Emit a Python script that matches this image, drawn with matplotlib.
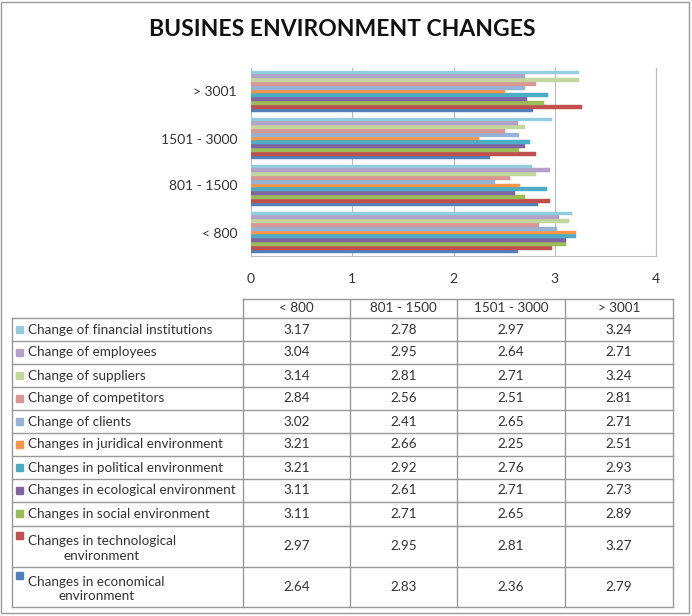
import matplotlib
matplotlib.use("Agg")
import matplotlib.pyplot as plt
from matplotlib.patches import Rectangle
import numpy as np

plt.rcParams['font.family'] = ['Lato', 'DejaVu Sans']

title = "BUSINES ENVIRONMENT CHANGES"
categories = ["< 800", "801 - 1500", "1501 - 3000", "> 3001"]

# table order (top row first)
series_names = [
    "Change of financial institutions",
    "Change of employees",
    "Change of suppliers",
    "Change of competitors",
    "Change of clients",
    "Changes in juridical environment",
    "Changes in political environment",
    "Changes in ecological environment",
    "Changes in social environment",
    "Changes in technological\nenvironment",
    "Changes in economical\nenvironment",
]
financial = [3.17, 2.78, 2.97, 3.24]
employees = [3.04, 2.95, 2.64, 2.71]
suppliers = [3.14, 2.81, 2.71, 3.24]
competitors = [2.84, 2.56, 2.51, 2.81]
clients = [3.02, 2.41, 2.65, 2.71]
juridical = [3.21, 2.66, 2.25, 2.51]
political = [3.21, 2.92, 2.76, 2.93]
ecological = [3.11, 2.61, 2.71, 2.73]
social = [3.11, 2.71, 2.65, 2.89]
technological = [2.97, 2.95, 2.81, 3.27]
economical = [2.64, 2.83, 2.36, 2.79]
series_values = [financial, employees, suppliers, competitors, clients, juridical,
                 political, ecological, social, technological, economical]
colors = ["#93CDDD", "#B3A2C7", "#C3D69B", "#D99694", "#95B3D7", "#F79646",
          "#4BACC6", "#8064A2", "#9BBB59", "#C0504D", "#4F81BD"]

W, H = 692, 616
fig = plt.figure(figsize=(W/100, H/100), dpi=100)

def fx(px): return px/W
def fy(py): return 1-py/H

# ---- bar chart
ax = fig.add_axes([fx(251), fy(256), (656-251)/W, (256-68)/H])
n = len(series_names)
group = 0.89
bh = group/n
y = np.arange(len(categories))
for k in range(n):
    i = n-1-k  # economical at the bottom of each group
    offs = -group/2 + bh*(k+0.5)
    ax.barh(y+offs, series_values[i], height=bh, color=colors[i],
            edgecolor=colors[i], linewidth=0.3, zorder=3)
ax.set_xlim(0, 4)
ax.set_ylim(-0.5, 3.5)
ax.set_xticks([0, 1, 2, 3, 4])
ax.set_xticklabels(["0", "1", "2", "3", "4"], fontsize=10, color="#333333")
ax.set_yticks(y)
ax.set_yticklabels(categories, fontsize=10, color="#333333")
ax.tick_params(length=0, pad=12)
ax.tick_params(axis='y', pad=10)
ax.grid(axis='x', color="#BBBBBB", linewidth=0.8, zorder=0)
for s in ax.spines.values():
    s.set_color("#BBBBBB")
ax.spines['top'].set_visible(False)

# ---- overlay for title, table and border
ov = fig.add_axes([0, 0, 1, 1])
ov.set_xlim(0, W)
ov.set_ylim(H, 0)
ov.axis('off')

ov.add_patch(Rectangle((1, 2), 688, 611, fill=False, edgecolor="#999999", linewidth=1))
ov.text(342, 30, title, ha='center', va='center', fontsize=16.5, fontweight='bold', color="#111111")

cols = [243, 350, 457, 565, 673]
left = 12
rows = [299, 318, 341, 364, 387, 410, 433, 456, 479, 502, 526, 567, 607]
lc = "#999999"
fs = 9.7
# header row
ov.plot([cols[0], cols[-1]], [rows[0], rows[0]], color=lc, lw=1)
for c in cols:
    ov.plot([c, c], [rows[0], rows[-1]], color=lc, lw=1)
ov.plot([left, left], [rows[1], rows[-1]], color=lc, lw=1)
for r in rows[1:]:
    ov.plot([left, cols[-1]], [r, r], color=lc, lw=1)
for j, cat in enumerate(categories):
    ov.text((cols[j]+cols[j+1])/2, (rows[0]+rows[1])/2, cat, ha='center', va='center',
            fontsize=fs, color="#333333")
for i, name in enumerate(series_names):
    yc = (rows[i+1]+rows[i+2])/2
    if "\n" in name:
        ov.add_patch(Rectangle((16, yc-15), 7, 7, color=colors[i]))
        ov.text(28, yc-11.5, name, ha='left', va='top', fontsize=fs, color="#333333",
                multialignment='center', linespacing=1.25)
    else:
        ov.add_patch(Rectangle((16, yc-4), 7, 7, color=colors[i]))
        ov.text(28, yc, name, ha='left', va='center', fontsize=fs, color="#333333")
    for j, v in enumerate(series_values[i]):
        ov.text((cols[j]+cols[j+1])/2, yc, f"{v:.2f}", ha='center', va='center',
                fontsize=fs, color="#333333")

fig.savefig("out.png", dpi=100)
